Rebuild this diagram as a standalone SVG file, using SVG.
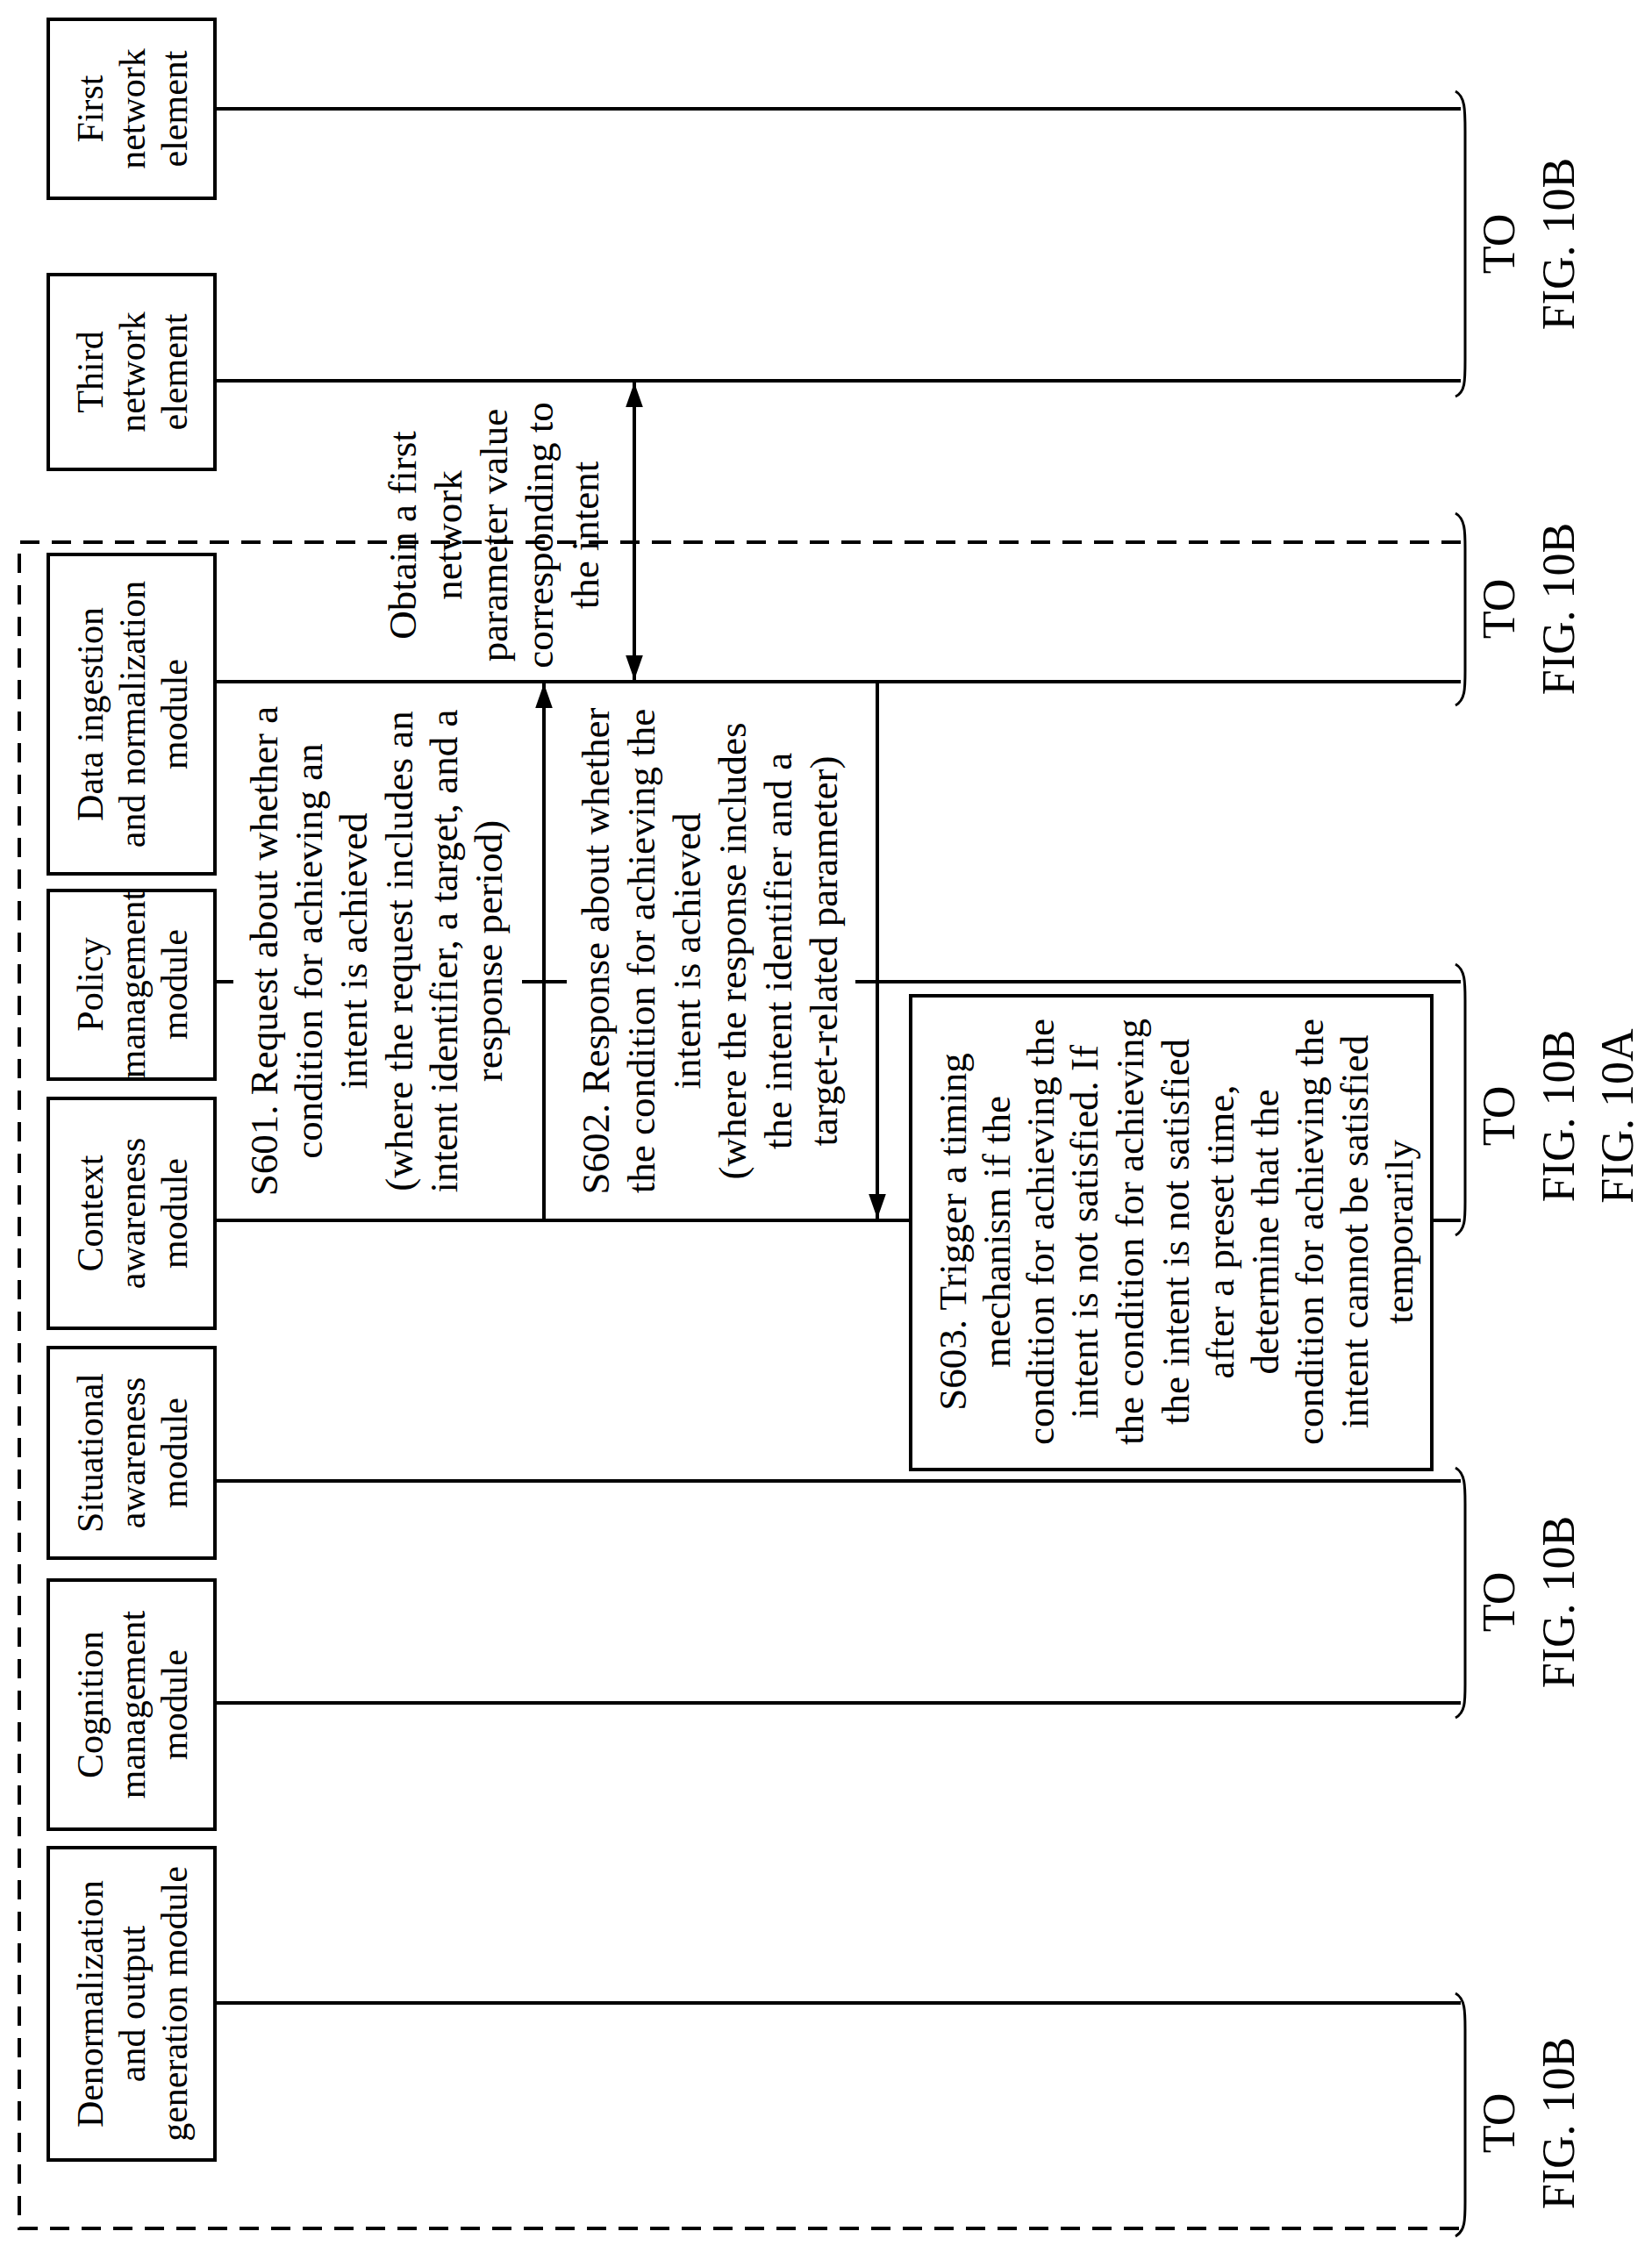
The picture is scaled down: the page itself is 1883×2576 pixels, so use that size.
<svg xmlns="http://www.w3.org/2000/svg" width="1883" height="2576" viewBox="0 0 1883 2576">
<style>
.box{fill:#fff;stroke:#000;stroke-width:4}
.ln{stroke:#000;stroke-width:4;fill:none}
.br{stroke:#000;stroke-width:3;fill:none}
text{font-family:"Liberation Serif","Times New Roman",serif;fill:#000;text-anchor:middle}
.t{font-size:42px}
.s{font-size:45px}
.f{font-size:52px}
</style>
<defs>
<marker id="ah" viewBox="0 0 10 10" refX="10" refY="5" markerWidth="7" markerHeight="7" orient="auto-start-reverse" markerUnits="strokeWidth"><path d="M0,1.5 L10,5 L0,8.5 Z" fill="#000"/></marker>
</defs>
<rect width="1883" height="2576" fill="#fff"/>
<path class="ln" d="M1665,618 H22 V2540 H1665" stroke-dasharray="22,14" stroke-width="3"/>
<g id="n1"><rect class="box" x="55" y="22" width="190" height="204"/><text class="t" transform="translate(0,124) rotate(-90)"><tspan x="0" y="117">First</tspan><tspan x="0" y="165">network</tspan><tspan x="0" y="213">element</tspan></text></g>
<g id="n3"><rect class="box" x="55" y="313" width="190" height="222"/><text class="t" transform="translate(0,424) rotate(-90)"><tspan x="0" y="117">Third</tspan><tspan x="0" y="165">network</tspan><tspan x="0" y="213">element</tspan></text></g>
<g id="data"><rect class="box" x="55" y="632" width="190" height="364"/><text class="t" transform="translate(0,814) rotate(-90)"><tspan x="0" y="117">Data ingestion</tspan><tspan x="0" y="165">and normalization</tspan><tspan x="0" y="213">module</tspan></text></g>
<g id="policy"><rect class="box" x="55" y="1015" width="190" height="215"/><text class="t" transform="translate(0,1122) rotate(-90)"><tspan x="0" y="117">Policy</tspan><tspan x="0" y="165">management</tspan><tspan x="0" y="213">module</tspan></text></g>
<g id="context"><rect class="box" x="55" y="1252" width="190" height="262"/><text class="t" transform="translate(0,1383) rotate(-90)"><tspan x="0" y="117">Context</tspan><tspan x="0" y="165">awareness</tspan><tspan x="0" y="213">module</tspan></text></g>
<g id="situational"><rect class="box" x="55" y="1536" width="190" height="240"/><text class="t" transform="translate(0,1656) rotate(-90)"><tspan x="0" y="117">Situational</tspan><tspan x="0" y="165">awareness</tspan><tspan x="0" y="213">module</tspan></text></g>
<g id="cognition"><rect class="box" x="55" y="1801" width="190" height="284"/><text class="t" transform="translate(0,1943) rotate(-90)"><tspan x="0" y="117">Cognition</tspan><tspan x="0" y="165">management</tspan><tspan x="0" y="213">module</tspan></text></g>
<g id="denorm"><rect class="box" x="55" y="2106" width="190" height="356"/><text class="t" transform="translate(0,2284) rotate(-90)"><tspan x="0" y="117">Denormalization</tspan><tspan x="0" y="165">and output</tspan><tspan x="0" y="213">generation module</tspan></text></g>
<g id="s603"><rect class="box" x="1038" y="1135" width="594" height="540"/><text class="s" transform="translate(0,1404) rotate(-90)"><tspan x="0" y="1101">S603. Trigger a timing</tspan><tspan x="0" y="1151">mechanism if the</tspan><tspan x="0" y="1201">condition for achieving the</tspan><tspan x="0" y="1251">intent is not satisfied. If</tspan><tspan x="0" y="1303">the condition for achieving</tspan><tspan x="0" y="1355">the intent is not satisfied</tspan><tspan x="0" y="1406">after a preset time,</tspan><tspan x="0" y="1457">determine that the</tspan><tspan x="0" y="1508">condition for achieving the</tspan><tspan x="0" y="1559">intent cannot be satisfied</tspan><tspan x="0" y="1610">temporarily</tspan></text></g>
<g id="connectors">
<line class="ln" x1="245" y1="124" x2="1665" y2="124"/>
<line class="ln" x1="245" y1="434" x2="1665" y2="434"/>
<line class="ln" x1="245" y1="777" x2="1665" y2="777"/>
<line class="ln" x1="245" y1="1119" x2="266" y2="1119"/>
<line class="ln" x1="595" y1="1119" x2="646" y2="1119"/>
<line class="ln" x1="975" y1="1119" x2="1665" y2="1119"/>
<line class="ln" x1="245" y1="1391" x2="1038" y2="1391"/>
<line class="ln" x1="1632" y1="1391" x2="1665" y2="1391"/>
<line class="ln" x1="245" y1="1688" x2="1665" y2="1688"/>
<line class="ln" x1="245" y1="1941" x2="1665" y2="1941"/>
<line class="ln" x1="245" y1="2283" x2="1665" y2="2283"/>
<line class="ln" x1="723" y1="436" x2="723" y2="775" marker-start="url(#ah)" marker-end="url(#ah)"/>
<line class="ln" x1="620" y1="1391" x2="620" y2="779" marker-end="url(#ah)"/>
<line class="ln" x1="1000" y1="777" x2="1000" y2="1389" marker-end="url(#ah)"/>
</g>
<g id="braces">
<path class="br" d="M1659,104 C1670,110 1670,125 1670,150 L1670,410 C1670,435 1670,447 1659,452"/>
<path class="br" d="M1659,585 C1670,591 1670,606 1670,625 L1670,765 C1670,785 1670,798 1659,804"/>
<path class="br" d="M1659,1099 C1670,1105 1670,1120 1670,1140 L1670,1370 C1670,1390 1670,1402 1659,1408"/>
<path class="br" d="M1659,1673 C1670,1679 1670,1694 1670,1714 L1670,1920 C1670,1940 1670,1952 1659,1958"/>
<path class="br" d="M1659,2272 C1670,2278 1670,2293 1670,2313 L1670,2510 C1670,2530 1670,2543 1659,2549"/>
</g>
<g id="labels">
<text class="s" transform="translate(0,610) rotate(-90)"><tspan x="0" y="474">Obtain a first</tspan><tspan x="0" y="526">network</tspan><tspan x="0" y="578">parameter value</tspan><tspan x="0" y="630">corresponding to</tspan><tspan x="0" y="682">the intent</tspan></text>
<text class="s" transform="translate(0,1084) rotate(-90)"><tspan x="0" y="316">S601. Request about whether a</tspan><tspan x="0" y="367">condition for achieving an</tspan><tspan x="0" y="418">intent is achieved</tspan><tspan x="0" y="470">(where the request includes an</tspan><tspan x="0" y="521">intent identifier, a target, and a</tspan><tspan x="0" y="572">response period)</tspan></text>
<text class="s" transform="translate(0,1084) rotate(-90)"><tspan x="0" y="694">S602. Response about whether</tspan><tspan x="0" y="746">the condition for achieving the</tspan><tspan x="0" y="798">intent is achieved</tspan><tspan x="0" y="850">(where the response includes</tspan><tspan x="0" y="902">the intent identifier and a</tspan><tspan x="0" y="954">target-related parameter)</tspan></text>
<text class="f" transform="translate(0,278) rotate(-90)"><tspan x="0" y="1726">TO</tspan><tspan x="0" y="1794">FIG. 10B</tspan></text>
<text class="f" transform="translate(0,694) rotate(-90)"><tspan x="0" y="1726">TO</tspan><tspan x="0" y="1794">FIG. 10B</tspan></text>
<text class="f" transform="translate(0,1272) rotate(-90)"><tspan x="0" y="1726">TO</tspan><tspan x="0" y="1794">FIG. 10B</tspan></text>
<text class="f" transform="translate(0,1272) rotate(-90)"><tspan x="0" y="1861">FIG. 10A</tspan></text>
<text class="f" transform="translate(0,1826) rotate(-90)"><tspan x="0" y="1726">TO</tspan><tspan x="0" y="1794">FIG. 10B</tspan></text>
<text class="f" transform="translate(0,2420) rotate(-90)"><tspan x="0" y="1726">TO</tspan><tspan x="0" y="1794">FIG. 10B</tspan></text>
</g>
</svg>
